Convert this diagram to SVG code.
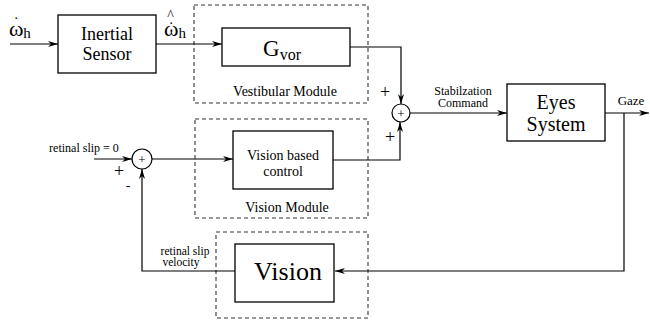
<svg xmlns="http://www.w3.org/2000/svg" width="650" height="320" viewBox="0 0 650 320" font-family="'Liberation Serif','Times New Roman','DejaVu Serif',serif">
<style>
text{font-family:"Liberation Serif","Times New Roman","DejaVu Serif",serif;fill:#000}
.box{fill:#fff;stroke:#000;stroke-width:1.3}
.dash{fill:none;stroke:#333;stroke-width:1.1;stroke-dasharray:4,3}
.ln{fill:none;stroke:#000;stroke-width:1.2}
.sum{fill:#fff;stroke:#000;stroke-width:1.2}
</style>
<defs>
<marker id="ah" viewBox="0 0 10 6" refX="10" refY="3" markerWidth="10" markerHeight="6" markerUnits="userSpaceOnUse" orient="auto">
<path d="M0,0 L10,3 L0,6 L3,3 z" fill="#000"/>
</marker>
</defs>
<g id="vestibular-module">
<rect class="dash" x="194" y="5" width="174" height="98"/>
<text x="285" y="96" font-size="14" text-anchor="middle">Vestibular  Module</text>
</g>
<g id="vision-module">
<rect class="dash" x="195" y="119" width="173" height="99"/>
<text x="287" y="212" font-size="14" text-anchor="middle">Vision  Module</text>
</g>
<g id="vision-group">
<rect class="dash" x="216" y="232" width="152" height="86"/>
</g>
<g id="inertial-sensor">
<rect class="box" x="58" y="15" width="98" height="58"/>
<text x="107" y="40" font-size="18" text-anchor="middle">Inertial</text>
<text x="107" y="60" font-size="18" text-anchor="middle">Sensor</text>
</g>
<g id="gvor">
<rect class="box" x="222" y="28" width="128" height="38"/>
<text x="263" y="56" font-size="23">G<tspan font-size="16" dy="4">vor</tspan></text>
</g>
<g id="vision-control">
<rect class="box" x="233" y="131" width="100" height="58"/>
<text x="283" y="160" font-size="14" text-anchor="middle">Vision based</text>
<text x="283" y="176" font-size="14" text-anchor="middle">control</text>
</g>
<g id="eyes-system">
<rect class="box" x="507" y="84" width="98" height="57"/>
<text x="556" y="109" font-size="20" text-anchor="middle">Eyes</text>
<text x="556" y="131" font-size="20" text-anchor="middle">System</text>
</g>
<g id="vision">
<rect class="box" x="235" y="244" width="99" height="58"/>
<text x="288" y="280" font-size="26" text-anchor="middle">Vision</text>
</g>
<g id="sum-top">
<circle class="sum" cx="401" cy="113" r="9"/>
<text x="401" y="117.5" font-size="13" text-anchor="middle">+</text>
</g>
<g id="sum-left">
<circle class="sum" cx="142" cy="159" r="10"/>
<text x="142" y="163.5" font-size="13" text-anchor="middle">+</text>
</g>
<g id="connectors">
<line class="ln" x1="10" y1="44" x2="58" y2="44" marker-end="url(#ah)"/>
<line class="ln" x1="156" y1="44" x2="222" y2="44" marker-end="url(#ah)"/>
<polyline class="ln" points="350,47 401,47 401,104" marker-end="url(#ah)"/>
<line class="ln" x1="410" y1="113" x2="507" y2="113" marker-end="url(#ah)"/>
<line class="ln" x1="605" y1="113" x2="649" y2="113" marker-end="url(#ah)"/>
<polyline class="ln" points="624,113 624,271 335,271" marker-end="url(#ah)"/>
<polyline class="ln" points="235,271 142,271 142,169" marker-end="url(#ah)"/>
<line class="ln" x1="94" y1="159" x2="132" y2="159" marker-end="url(#ah)"/>
<line class="ln" x1="152" y1="159" x2="233" y2="159" marker-end="url(#ah)"/>
<polyline class="ln" points="333,160 400,160 400,122" marker-end="url(#ah)"/>
</g>
<g id="labels">
<text x="9" y="36" font-size="22">ω<tspan dx="-10" dy="-8" font-size="16">˙</tspan><tspan dx="4.5" dy="10" font-size="15">h</tspan></text>
<text x="164" y="36" font-size="22">ω<tspan dx="-10" dy="-3" font-size="16">˙</tspan><tspan dx="-6.5" dy="-13" font-size="14">^</tspan><tspan dx="4.5" dy="18" font-size="15">h</tspan></text>
<text x="385" y="98" font-size="18" text-anchor="middle">+</text>
<text x="390" y="143" font-size="18" text-anchor="middle">+</text>
<text x="463" y="95" font-size="12" text-anchor="middle">Stabilzation</text>
<text x="463" y="107" font-size="12" text-anchor="middle">Command</text>
<text x="631" y="105" font-size="13" text-anchor="middle">Gaze</text>
<text x="84" y="152" font-size="12" text-anchor="middle">retinal slip = 0</text>
<text x="119" y="177" font-size="18" text-anchor="middle">+</text>
<text x="128" y="190" font-size="14" text-anchor="middle">-</text>
<text x="185" y="255" font-size="11.5" text-anchor="middle">retinal slip</text>
<text x="181" y="266" font-size="11.5" text-anchor="middle">velocity</text>
</g>
</svg>
